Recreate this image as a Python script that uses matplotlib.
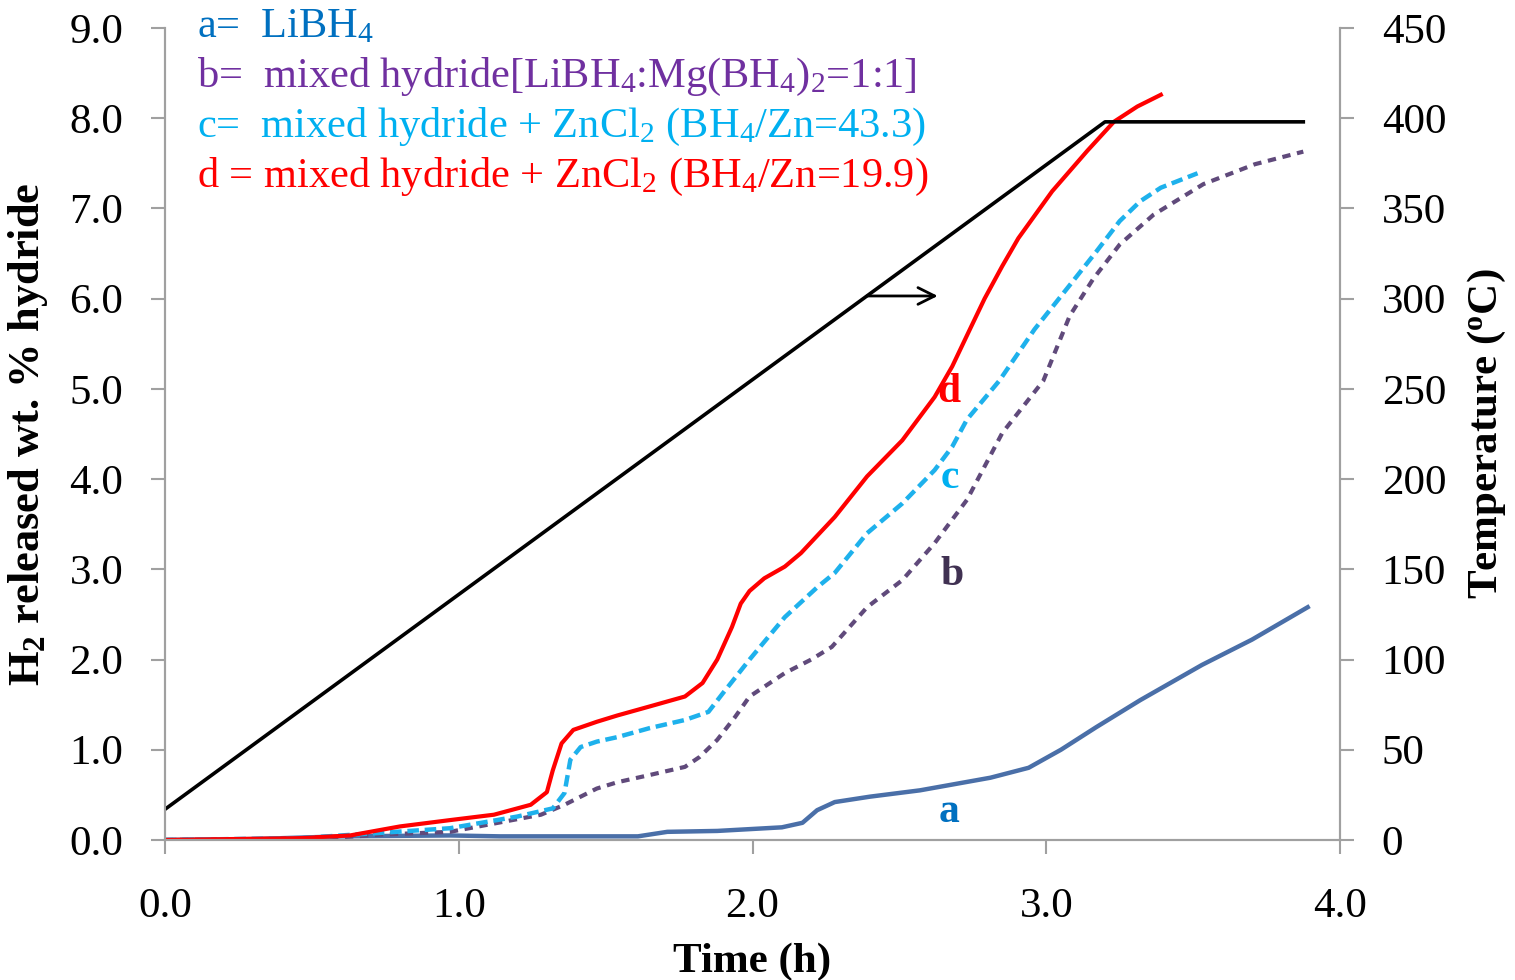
import matplotlib
matplotlib.use("Agg")
import matplotlib.pyplot as plt

plt.rcParams['font.family'] = ['Liberation Serif', 'DejaVu Serif']
plt.rcParams['mathtext.fontset'] = 'custom'
plt.rcParams['mathtext.rm'] = 'Liberation Serif'

# curve a: LiBH4
ta = [0, 0.3, 0.6, 0.97, 1.14, 1.61, 1.71, 1.88, 1.99, 2.10, 2.17, 2.22, 2.28,
      2.40, 2.57, 2.81, 2.94, 3.05, 3.17, 3.32, 3.53, 3.70, 3.89]
wa = [0.0, 0.01, 0.04, 0.05, 0.04, 0.04, 0.09, 0.10, 0.12, 0.14, 0.19, 0.33, 0.42,
      0.48, 0.55, 0.69, 0.80, 1.00, 1.25, 1.55, 1.94, 2.22, 2.58]

# curve b: mixed hydride
tb = [0, 0.4, 0.6, 0.74, 0.97, 1.28, 1.36, 1.47, 1.54, 1.65, 1.77, 1.82, 1.88, 1.94,
      1.99, 2.11, 2.2, 2.27, 2.39, 2.51, 2.62, 2.73, 2.85, 2.99, 3.08, 3.16, 3.25,
      3.365, 3.535, 3.71, 3.875]
wb = [0.0, 0.01, 0.03, 0.06, 0.09, 0.28, 0.39, 0.57, 0.64, 0.72, 0.81, 0.92, 1.11, 1.36,
      1.59, 1.85, 2.0, 2.14, 2.58, 2.88, 3.29, 3.77, 4.51, 5.09, 5.81, 6.22, 6.60,
      6.93, 7.27, 7.49, 7.63]

# curve c: mixed hydride + ZnCl2 (BH4/Zn=43.3)
tc = [0, 0.46, 0.74, 0.97, 1.2, 1.32, 1.36, 1.38, 1.415, 1.47, 1.54, 1.65, 1.77, 1.85,
      1.90, 1.99, 2.11, 2.22, 2.28, 2.39, 2.51, 2.62, 2.68, 2.73, 2.84, 2.96, 3.08,
      3.17, 3.25, 3.32, 3.39, 3.515]
wc = [0.0, 0.02, 0.08, 0.13, 0.26, 0.35, 0.52, 0.89, 1.03, 1.09, 1.14, 1.24, 1.33, 1.42,
      1.63, 2.0, 2.47, 2.80, 2.96, 3.40, 3.73, 4.10, 4.36, 4.66, 5.09, 5.66, 6.15,
      6.52, 6.86, 7.08, 7.23, 7.39]

# curve d: mixed hydride + ZnCl2 (BH4/Zn=19.9)
td = [0, 0.46, 0.63, 0.8, 0.97, 1.12, 1.245, 1.30, 1.32, 1.35, 1.39, 1.47, 1.54,
      1.65, 1.77, 1.83, 1.88, 1.93, 1.96, 1.99, 2.04, 2.11, 2.165, 2.28, 2.39, 2.51,
      2.62, 2.68, 2.74, 2.79, 2.85, 2.905, 3.02, 3.14, 3.23, 3.31, 3.39]
wd = [0.0, 0.02, 0.05, 0.15, 0.22, 0.28, 0.39, 0.53, 0.77, 1.07, 1.22, 1.31, 1.38,
      1.48, 1.59, 1.74, 2.0, 2.36, 2.62, 2.76, 2.90, 3.03, 3.18, 3.58, 4.03, 4.43,
      4.91, 5.25, 5.66, 6.00, 6.36, 6.67, 7.19, 7.64, 7.96, 8.13, 8.26]

# temperature ramp
tt = [0, 3.2, 3.875]
temp = [17, 398, 398]

legend_lines = [
    (r'a=  LiBH$\mathregular{_4}$', '#0070C0'),
    (r'b=  mixed hydride[LiBH$\mathregular{_4}$:Mg(BH$\mathregular{_4}$)$\mathregular{_2}$=1:1]', '#7030A0'),
    (r'c=  mixed hydride + ZnCl$\mathregular{_2}$ (BH$\mathregular{_4}$/Zn=43.3)', '#00B0F0'),
    (r'd = mixed hydride + ZnCl$\mathregular{_2}$ (BH$\mathregular{_4}$/Zn=19.9)', '#FF0000'),
]

fig = plt.figure(figsize=(15.15, 9.8), dpi=100)
ax = fig.add_axes([0.1089, 0.1429, 0.7756, 0.8285])
ax2 = ax.twinx()

ax.plot(ta, wa, color='#4A6FA8', lw=3.2)
ax.plot(tb, wb, color='#604A7B', lw=3.0, dashes=(2.0, 1.6))
ax.plot(tc, wc, color='#1EB1EC', lw=3.2, dashes=(2.6, 1.3))
ax.plot(td, wd, color='#FF0000', lw=3.0)
ax2.plot(tt, temp, color='black', lw=2.6)

ax.annotate('', xy=(2.64, 6.03), xytext=(2.38, 6.03),
            arrowprops=dict(arrowstyle='->', color='black', lw=2, mutation_scale=30))

ax.text(2.67, 4.97, 'd', color='#FF0000', fontsize=30, fontweight='bold', ha='center', va='center')
ax.text(2.67, 4.01, 'c', color='#00B0F0', fontsize=30, fontweight='bold', ha='center', va='center')
ax.text(2.68, 2.94, 'b', color='#403152', fontsize=30, fontweight='bold', ha='center', va='center')
ax.text(2.67, 0.31, 'a', color='#0070C0', fontsize=30, fontweight='bold', ha='center', va='center')

for i, (txt, col) in enumerate(legend_lines):
    fig.text(197 / 1515, 1 - (27 + 50 * i) / 980, txt, color=col, fontsize=30.5,
             ha='left', va='center')

ax.set_xlim(0, 4)
ax.set_ylim(0, 9)
ax2.set_ylim(0, 450)
ax.set_xticks([0, 1, 2, 3, 4])
ax.set_xticklabels(['0.0', '1.0', '2.0', '3.0', '4.0'])
ax.set_yticks(range(10))
ax.set_yticklabels(['%.1f' % v for v in range(10)])
ax2.set_yticks(range(0, 451, 50))

for a in (ax, ax2):
    for s in a.spines.values():
        s.set_color('#A0A0A0')
        s.set_linewidth(1.5)
    a.spines['top'].set_visible(False)
ax.tick_params(axis='both', direction='out', length=10, width=1.5, color='#A0A0A0',
               labelsize=31, pad=20)
ax.tick_params(axis='x', pad=24)
ax2.tick_params(axis='y', direction='out', length=10, width=1.5, color='#A0A0A0',
                labelsize=31, pad=20)

ax.set_xlabel('Time (h)', fontsize=31, fontweight='bold', labelpad=12)
ax.set_ylabel(r'H$\mathregular{_2}$ released wt. % hydride', fontsize=32, fontweight='bold', labelpad=14)
ax2.set_ylabel(r'Temperature ($\mathregular{^o}$C)', fontsize=31, fontweight='bold', labelpad=14)

fig.savefig('out.png', dpi=100)
